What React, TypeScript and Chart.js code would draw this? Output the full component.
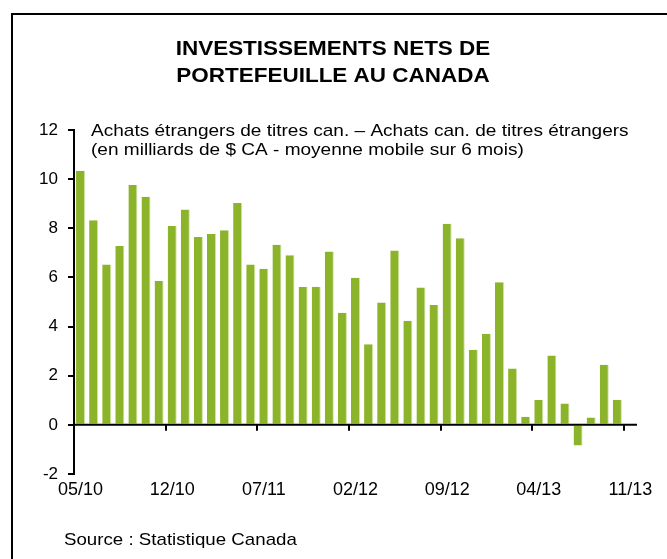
import React, { useEffect, useRef } from 'react';
import { Chart, registerables } from 'chart.js';

Chart.register(...registerables);

const categories = [
  '05/10', '06/10', '07/10', '08/10', '09/10', '10/10', '11/10', '12/10',
  '01/11', '02/11', '03/11', '04/11', '05/11', '06/11', '07/11', '08/11', '09/11', '10/11', '11/11', '12/11',
  '01/12', '02/12', '03/12', '04/12', '05/12', '06/12', '07/12', '08/12', '09/12', '10/12', '11/12', '12/12',
  '01/13', '02/13', '03/13', '04/13', '05/13', '06/13', '07/13', '08/13', '09/13', '10/13', '11/13',
];

const netInvestment: (number | null)[] = [
  10.34, 8.33, 6.53, 7.28, 9.76, 9.28, 5.85, 8.09, 8.76, 7.65, 7.77, 7.92, 9.03, 6.53,
  6.35, 7.33, 6.9, 5.62, 5.62, 7.06, 4.56, 5.99, 3.28, 4.98, 7.1, 4.24, 5.59, 4.88,
  8.18, 7.59, 3.06, 3.71, 5.8, 2.29, 0.33, 1.01, 2.82, 0.87, -0.84, 0.3, 2.45, 1.02,
  null,
];

const tickLabels = ['05/10', '12/10', '07/11', '02/12', '09/12', '04/13', '11/13'];

const titleLines = ['INVESTISSEMENTS NETS DE', 'PORTEFEUILLE AU CANADA'];
const subtitleLines = [
  'Achats étrangers de titres can. – Achats can. de titres étrangers',
  '(en milliards de $ CA - moyenne mobile sur 6 mois)',
];
const sourceText = 'Source : Statistique Canada';

const FONT = '"Liberation Sans", Arial, Helvetica, sans-serif';
const BAR_COLOR = '#8CB42A';

function stretchedText(
  ctx: CanvasRenderingContext2D,
  text: string,
  x: number,
  y: number,
  font: string,
  align: CanvasTextAlign,
  sx: number
) {
  ctx.save();
  ctx.font = font;
  ctx.fillStyle = '#000';
  ctx.textAlign = align;
  ctx.textBaseline = 'alphabetic';
  ctx.translate(x, y);
  ctx.scale(sx, 1);
  ctx.fillText(text, 0, 0);
  ctx.restore();
}

const decorPlugin = {
  id: 'decor',
  afterDatasetsDraw(chart: any) {
    const ctx: CanvasRenderingContext2D = chart.ctx;
    const xs = chart.scales.x;
    const ys = chart.scales.y;
    const y0 = ys.getPixelForValue(0);
    const half = (xs.getPixelForValue(1) - xs.getPixelForValue(0)) / 2;
    ctx.save();
    ctx.strokeStyle = '#000';
    ctx.lineWidth = 2;
    ctx.beginPath();
    ctx.moveTo(xs.left, y0);
    ctx.lineTo(xs.right, y0);
    ctx.stroke();
    categories.forEach((c, i) => {
      if (tickLabels.includes(c)) {
        const bx = Math.round(xs.getPixelForValue(i) - half);
        ctx.beginPath();
        ctx.moveTo(bx, y0);
        ctx.lineTo(bx, y0 + 6);
        ctx.stroke();
      }
    });
    ctx.restore();
  },
  afterDraw(chart: any) {
    const ctx: CanvasRenderingContext2D = chart.ctx;
    // frame
    ctx.save();
    ctx.strokeStyle = '#000';
    ctx.lineWidth = 2;
    ctx.beginPath();
    ctx.moveTo(12, chart.height + 2);
    ctx.lineTo(12, 14);
    ctx.lineTo(chart.width + 2, 14);
    ctx.stroke();
    ctx.restore();
    // title
    const tf = `bold 21px ${FONT}`;
    stretchedText(ctx, titleLines[0], 333, 55, tf, 'center', 1.07);
    stretchedText(ctx, titleLines[1], 333, 82, tf, 'center', 1.07);
    // subtitle
    const sf = `17px ${FONT}`;
    stretchedText(ctx, subtitleLines[0], 91, 135.5, sf, 'left', 1.12);
    stretchedText(ctx, subtitleLines[1], 91, 154.5, sf, 'left', 1.12);
    // source
    stretchedText(ctx, sourceText, 64, 545, sf, 'left', 1.1);
  },
};

export default function App() {
  const canvasRef = useRef<HTMLCanvasElement | null>(null);

  useEffect(() => {
    if (!canvasRef.current) return;
    const chart = new Chart(canvasRef.current, {
      type: 'bar',
      data: {
        labels: categories,
        datasets: [
          {
            data: netInvestment,
            backgroundColor: BAR_COLOR,
            borderColor: '#cfe4a3',
            borderWidth: { top: 0, right: 1, bottom: 0, left: 0 },
            borderSkipped: false,
            barPercentage: 0.69,
            categoryPercentage: 1.0,
          },
        ],
      },
      options: {
        animation: false,
        responsive: false,
        devicePixelRatio: 1,
        layout: { padding: { left: 0, right: 30, top: 130, bottom: 45 } },
        plugins: {
          legend: { display: false },
          tooltip: { enabled: false },
          title: { display: false },
        },
        scales: {
          x: {
            grid: { display: false, drawTicks: false },
            border: { display: false },
            ticks: {
              autoSkip: false,
              maxRotation: 0,
              minRotation: 0,
              padding: 5,
              color: '#000',
              font: { family: FONT, size: 18 },
              callback: (_v: any, i: number) =>
                tickLabels.includes(categories[i]) ? categories[i] : '',
            },
            afterFit: (s: any) => {
              s.height = 40;
            },
          },
          y: {
            min: -2,
            max: 12,
            ticks: {
              stepSize: 2,
              padding: 10,
              color: '#000',
              font: { family: FONT, size: 17 },
            },
            grid: {
              drawOnChartArea: false,
              drawTicks: true,
              tickLength: 6,
              color: '#000',
              lineWidth: 2,
            },
            border: { display: true, color: '#000', width: 2 },
            afterFit: (s: any) => {
              s.width = 74;
            },
          },
        },
      },
      plugins: [decorPlugin],
    });
    return () => chart.destroy();
  }, []);

  return (
    <div style={{ position: 'absolute', left: 0, top: 0, width: 667, height: 559, background: '#fff' }}>
      <canvas ref={canvasRef} width={667} height={559} />
    </div>
  );
}
